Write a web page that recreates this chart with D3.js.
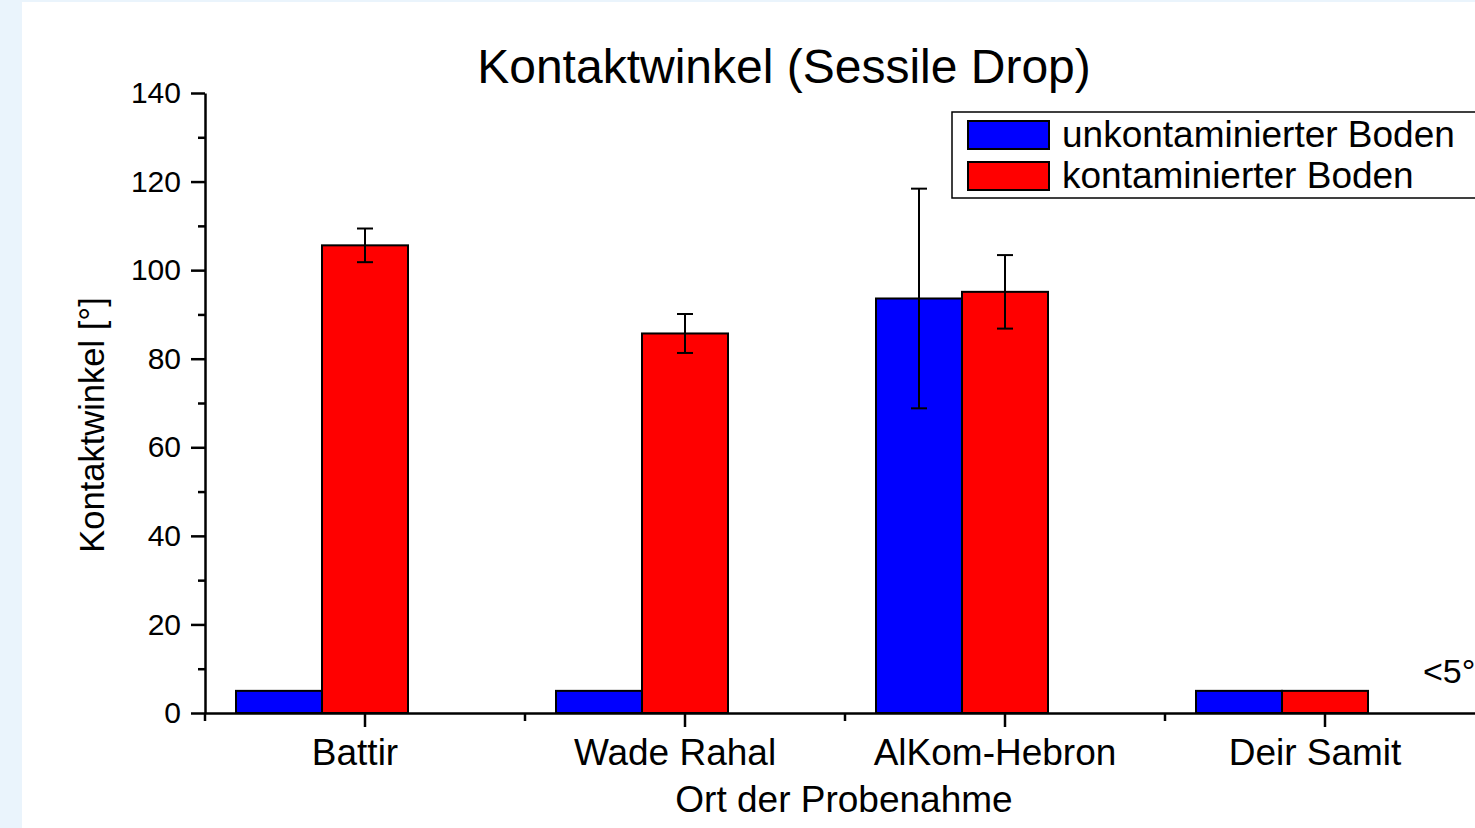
<!DOCTYPE html>
<html>
<head>
<meta charset="utf-8">
<script src="https://cdn.jsdelivr.net/npm/d3@7"></script>
<style>
  html, body { margin: 0; padding: 0; background: #eaf4fc; }
  svg { display: block; }
  text { font-family: Arial, "Liberation Sans", sans-serif; fill: #000; }
</style>
</head>
<body>
<svg id="chart" width="1475" height="828"></svg>
<script>
// ---- data ----
const categories = ["Battir", "Wade Rahal", "AlKom-Hebron", "Deir Samit"];
const seriesNames = ["unkontaminierter Boden", "kontaminierter Boden"];
const uncontaminated = [5, 5, 93.6, 5];
const uncontaminatedErr = [null, null, 24.8, null];
const contaminated = [105.6, 85.7, 95.1, 5];
const contaminatedErr = [3.8, 4.4, 8.3, null];
const yTicks = [0, 20, 40, 60, 80, 100, 120, 140];
const yMinorTicks = [10, 30, 50, 70, 90, 110, 130];
const seriesColors = ["#0000ff", "#ff0000"];
const titleText = "Kontaktwinkel (Sessile Drop)";
const xTitle = "Ort der Probenahme";
const yTitle = "Kontaktwinkel [°]";
const noteText = "<5°";

// ---- layout ----
const svg = d3.select("#chart");
svg.append("rect").attr("x", 22).attr("y", 2).attr("width", 1475 - 22).attr("height", 828 - 2).attr("fill", "#ffffff");

const y = d3.scaleLinear().domain([0, 140]).range([713, 93]);
const x = d3.scaleBand().domain(categories).range([205, 1485]).padding(0);
const xSub = d3.scaleBand().domain(seriesNames).range([-129, 43]).padding(0);

const rows = categories.map((c, i) => ({
  cat: c,
  vals: [
    { s: seriesNames[0], v: uncontaminated[i], e: uncontaminatedErr[i], col: seriesColors[0] },
    { s: seriesNames[1], v: contaminated[i], e: contaminatedErr[i], col: seriesColors[1] }
  ]
}));

// bars
const g = svg.append("g");
const groups = g.selectAll("g.grp").data(rows).join("g")
  .attr("transform", d => `translate(${x(d.cat) + x.bandwidth() / 2},0)`);
groups.selectAll("rect").data(d => d.vals).join("rect")
  .attr("x", d => xSub(d.s))
  .attr("width", xSub.bandwidth())
  .attr("y", d => y(d.v))
  .attr("height", d => y(0) - y(d.v))
  .attr("fill", d => d.col)
  .attr("stroke", "#000")
  .attr("stroke-width", 2);

// error bars
const eb = groups.selectAll("g.err").data(d => d.vals.filter(v => v.e != null)).join("g")
  .attr("stroke", "#000").attr("stroke-width", 2);
eb.append("line")
  .attr("x1", d => xSub(d.s) + xSub.bandwidth() / 2).attr("x2", d => xSub(d.s) + xSub.bandwidth() / 2)
  .attr("y1", d => y(d.v + d.e)).attr("y2", d => y(d.v - d.e));
eb.append("line")
  .attr("x1", d => xSub(d.s) + xSub.bandwidth() / 2 - 8).attr("x2", d => xSub(d.s) + xSub.bandwidth() / 2 + 8)
  .attr("y1", d => y(d.v + d.e)).attr("y2", d => y(d.v + d.e));
eb.append("line")
  .attr("x1", d => xSub(d.s) + xSub.bandwidth() / 2 - 8).attr("x2", d => xSub(d.s) + xSub.bandwidth() / 2 + 8)
  .attr("y1", d => y(d.v - d.e)).attr("y2", d => y(d.v - d.e));

// y axis
const yAxis = svg.append("g").attr("transform", "translate(205,0)")
  .call(d3.axisLeft(y).tickValues(yTicks).tickSize(14).tickSizeOuter(0).tickPadding(10));
yAxis.select(".domain").attr("stroke-width", 2.5);
yAxis.selectAll(".tick line").attr("stroke-width", 2.5);
yAxis.selectAll("text").attr("font-size", 30).attr("font-family", "Arial, 'Liberation Sans', sans-serif");
const yMinor = svg.append("g").attr("transform", "translate(205,0)")
  .call(d3.axisLeft(y).tickValues(yMinorTicks).tickSize(7).tickFormat(""));
yMinor.select(".domain").remove();
yMinor.selectAll(".tick line").attr("stroke-width", 2.5);

// x axis
const xAxis = svg.append("g").attr("transform", "translate(0,713)")
  .call(d3.axisBottom(x).tickSize(14).tickSizeOuter(0).tickPadding(12));
xAxis.select(".domain").attr("stroke-width", 2.5);
xAxis.selectAll(".tick line").attr("stroke-width", 2.5);
xAxis.selectAll("text").attr("font-size", 37).attr("x", -10).attr("dy", "0.71em")
  .attr("font-family", "Arial, 'Liberation Sans', sans-serif");
const bounds = categories.map(c => x(c)).concat([x.range()[1]]);
svg.append("g").selectAll("line").data(bounds).join("line")
  .attr("x1", d => d).attr("x2", d => d).attr("y1", 713).attr("y2", 721)
  .attr("stroke", "#000").attr("stroke-width", 2.5);

// titles
svg.append("text").attr("x", 784).attr("y", 83).attr("text-anchor", "middle")
  .attr("font-size", 48).text(titleText);
svg.append("text").attr("x", 844).attr("y", 812).attr("text-anchor", "middle")
  .attr("font-size", 37).text(xTitle);
svg.append("text").attr("transform", "translate(104,425) rotate(-90)").attr("text-anchor", "middle")
  .attr("font-size", 34.5).text(yTitle);
svg.append("text").attr("x", 1423).attr("y", 683).attr("font-size", 34).text(noteText);

// legend
const leg = svg.append("g").attr("transform", "translate(952,112)");
leg.append("rect").attr("x", 0).attr("y", 0).attr("width", 560).attr("height", 86)
  .attr("fill", "#fff").attr("stroke", "#000").attr("stroke-width", 1.5);
const li = leg.selectAll("g.item").data(seriesNames).join("g")
  .attr("transform", (d, i) => `translate(16,${9 + i * 41})`);
li.append("rect").attr("width", 81).attr("height", 28)
  .attr("fill", (d, i) => seriesColors[i]).attr("stroke", "#000").attr("stroke-width", 2);
li.append("text").attr("x", 94).attr("y", 26).attr("font-size", 37).text(d => d);
</script>
</body>
</html>
